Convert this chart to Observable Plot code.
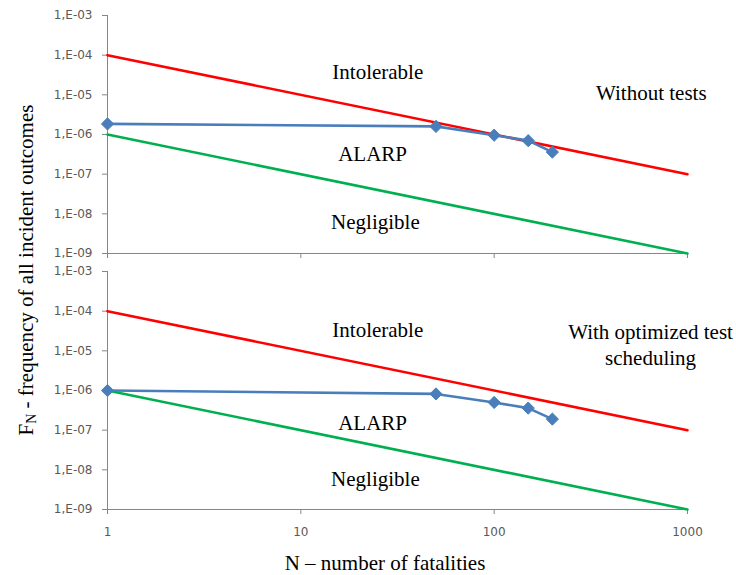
<!DOCTYPE html>
<html>
<head>
<meta charset="utf-8">
<script src="https://cdn.jsdelivr.net/npm/d3@7"></script>
<script src="https://cdn.jsdelivr.net/npm/@observablehq/plot@0.6"></script>
<style>
  html, body { margin: 0; padding: 0; background: #fff; }
  #wrap { position: relative; width: 736px; height: 575px; }
  .ttl { position: absolute; font-family: "Liberation Serif", "Times New Roman", serif; color: #000; white-space: nowrap; }
  #ytitle { left: 27px; top: 270px; font-size: 21px; transform: translate(-50%, -50%) rotate(-90deg); }
  #ytitle sub { font-size: 14px; vertical-align: -3px; }
  #xtitle { left: 385px; top: 563px; font-size: 21px; transform: translate(-50%, -50%); }
</style>
</head>
<body>
<div id="wrap">
  <div id="chart"></div>
  <div class="ttl" id="ytitle">F<sub>N</sub> - frequency of all incident outcomes</div>
  <div class="ttl" id="xtitle">N – number of fatalities</div>
</div>
<script>
// ---- data ----
const panels = ["Without tests", "With optimized test scheduling"];
const fatalities = [1, 50, 100, 150, 200];
const freqWithoutTests = [1.85e-6, 1.6e-6, 9.6e-7, 7.0e-7, 3.6e-7];
const freqOptimized = [1.0e-6, 8.2e-7, 5.0e-7, 3.6e-7, 1.9e-7];
const limitN = [1, 1000];
const intolerableLimit = [1e-4, 1e-7];
const negligibleLimit = [1e-6, 1e-9];
const xTicks = [1, 10, 100, 1000];
const yTicks = [1e-3, 1e-4, 1e-5, 1e-6, 1e-7, 1e-8, 1e-9];
const labelText = ["Intolerable", "ALARP", "Negligible", "Without tests",
                   "Intolerable", "ALARP", "Negligible", "With optimized test\nscheduling"];
const labelN = [25, 23.5, 24.3, 650, 25, 23.5, 24.3, 644];
const labelF = [4.0e-5, 3.5e-7, 6.8e-9, 1.2e-5, 3.65e-5, 1.66e-7, 6.4e-9, 1.5e-5];
const labelPanel = [0, 0, 0, 0, 1, 1, 1, 1];

// ---- tables built from arrays ----
const series = [];
[freqWithoutTests, freqOptimized].forEach((arr, p) =>
  fatalities.forEach((n, i) => series.push({panel: panels[p], N: n, F: arr[i]})));
const limits = [];
panels.forEach(p => limitN.forEach((n, i) => {
  limits.push({panel: p, kind: "intolerable", N: n, F: intolerableLimit[i]});
  limits.push({panel: p, kind: "negligible", N: n, F: negligibleLimit[i]});
}));
const labels = labelText.map((t, i) => ({text: t, N: labelN[i], F: labelF[i], panel: panels[labelPanel[i]]}));
const xTickRows = [];
panels.forEach(p => xTicks.forEach(t => xTickRows.push({panel: p, N: t})));

const gray = "#868686";
const fmtY = d => "1,E-" + String(-Math.round(Math.log10(d))).padStart(2, "0");

const chart = Plot.plot({
  width: 736,
  height: 575,
  marginLeft: 107,
  marginRight: 49,
  marginTop: 15,
  marginBottom: 66,
  style: {fontFamily: "DejaVu Sans, Verdana, sans-serif", background: "#fff"},
  x: {type: "log", domain: [1, 1000]},
  y: {type: "log", domain: [1e-9, 1e-3]},
  fy: {domain: panels, paddingInner: 0.0703, paddingOuter: 0, axis: null, round: false},
  marks: [
    Plot.ruleY(panels, {y: 1e-9, fy: d => d, stroke: gray, strokeWidth: 1}),
    Plot.ruleX(panels, {x: 1, fy: d => d, stroke: gray, strokeWidth: 1}),
    Plot.ruleX(xTickRows, {x: "N", y1: 1e-9, y2: 1e-9, insetBottom: -5, fy: "panel", stroke: gray, strokeWidth: 1}),
    Plot.axisY({ticks: yTicks, tickFormat: fmtY, tickSize: 5, tickPadding: 10, stroke: gray, fill: "#595959", fontSize: 12, label: null}),
    Plot.axisX({ticks: xTicks, tickFormat: d => String(d), tickSize: 0, tickPadding: 18, fill: "#595959", fontSize: 12, label: null}),
    Plot.line(limits.filter(d => d.kind === "intolerable"), {x: "N", y: "F", fy: "panel", z: "panel", stroke: "#ff0000", strokeWidth: 2.6}),
    Plot.line(limits.filter(d => d.kind === "negligible"), {x: "N", y: "F", fy: "panel", z: "panel", stroke: "#00b050", strokeWidth: 2.6}),
    Plot.line(series, {x: "N", y: "F", fy: "panel", z: "panel", stroke: "#4a7ebb", strokeWidth: 2.6}),
    Plot.dot(series, {x: "N", y: "F", fy: "panel", symbol: "diamond2", r: 5.5, fill: "#4a7ebb", stroke: "#4a7ebb", strokeWidth: 1}),
    Plot.text(labels, {x: "N", y: "F", fy: "panel", text: "text", fontFamily: "Liberation Serif, Times New Roman, serif", fontSize: 21, fill: "#000", lineHeight: 1.2})
  ]
});
document.getElementById("chart").appendChild(chart);
</script>
</body>
</html>
